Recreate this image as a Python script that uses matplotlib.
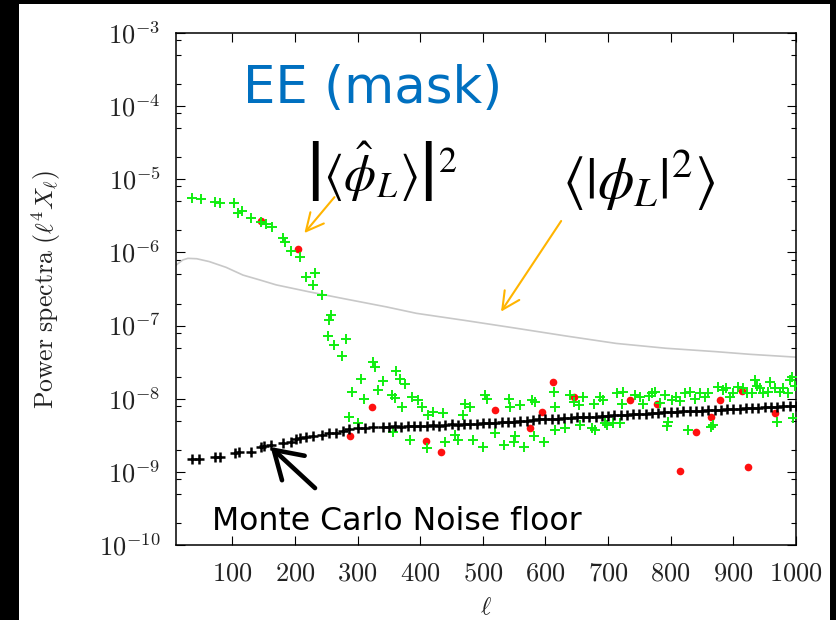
import numpy as np
import matplotlib
matplotlib.use("Agg")
import matplotlib.pyplot as plt
from matplotlib.patches import Rectangle
from matplotlib.ticker import FixedLocator, FuncFormatter, LogLocator, NullFormatter

plt.rcParams["mathtext.fontset"] = "cm"

# theory curve <|phi_L|^2>
theory_ell = [10, 21, 29, 43, 63, 90, 117, 144, 170, 222, 276, 346, 394,
              473, 553, 633, 713, 792, 872, 926, 1000]
theory_cl = [6.7e-7, 7.9e-7, 8.3e-7, 8.2e-7, 7.5e-7, 6.25e-7, 4.9e-7, 4.2e-7,
             3.6e-7, 2.9e-7, 2.35e-7, 1.8e-7, 1.47e-7, 1.17e-7, 9.2e-8,
             7.2e-8, 5.7e-8, 4.9e-8, 4.4e-8, 4.05e-8, 3.7e-8]

# |<phi_hat_L>|^2, positive bins
mean_ell = [36, 50, 73, 81, 102, 109, 115, 130, 146, 154, 163, 181, 184, 194,
            208, 217, 232, 229, 243, 258, 255, 253, 263, 282, 275, 324, 327,
            306, 340, 291, 332, 310, 287, 300,
            362, 368, 376, 355, 360, 387, 396, 403, 371, 357, 384, 411, 440,
            456, 461, 485, 501, 412, 421, 437, 469, 472, 480, 504, 506,
            520, 533, 541, 544, 552, 549, 565, 560, 578, 584, 582, 597, 613,
            615, 615, 631, 639, 645, 655, 653, 660,
            687, 692, 678, 674, 679, 695, 708, 719, 714, 722, 743, 756, 765,
            775, 791, 783, 796, 794, 809, 815, 823, 828, 839, 847, 855, 865,
            868, 876, 889, 894, 908, 921, 934, 937, 948, 958, 966, 969, 980,
            990, 993, 996, 698, 724, 751, 770, 802, 831, 860, 884, 900, 916,
            929, 942, 956, 974, 988, 998]
mean_cl = [5.6e-6, 5.4e-6, 4.9e-6, 4.7e-6, 4.8e-6, 3.5e-6, 3.7e-6, 3.0e-6,
           2.6e-6, 2.45e-6, 2.2e-6, 1.56e-6, 1.4e-6, 1.05e-6, 8.7e-7, 4.65e-7,
           5.2e-7, 3.6e-7, 2.6e-7, 1.4e-7, 1.19e-7, 7.3e-8, 5.4e-8, 6.5e-8,
           3.8e-8, 3.15e-8, 2.7e-8, 1.86e-8, 1.77e-8, 1.25e-8, 1.3e-8, 9.9e-9,
           5.7e-9, 4.6e-9,
           2.4e-8, 1.86e-8, 1.57e-8, 1.12e-8, 1.03e-8, 1.04e-8, 9.6e-9, 7.8e-9,
           7.8e-9, 3.47e-9, 2.73e-9, 2.15e-9, 2.54e-9, 3.2e-9, 2.73e-9,
           2.73e-9, 2.2e-9, 5.9e-9, 6.5e-9, 6.3e-9, 6.0e-9, 8.6e-9, 7.6e-9,
           1.12e-8, 1.0e-8,
           3.4e-9, 2.33e-9, 1.0e-8, 7.8e-9, 3.1e-9, 2.6e-9, 2.2e-9, 8.2e-9,
           9.6e-9, 9.0e-9, 3.1e-9, 2.55e-9, 1.25e-8, 7.8e-9, 3.7e-9, 3.95e-9,
           1.12e-8, 9.0e-9, 4.4e-9, 8.2e-9, 1.07e-8,
           1.07e-8, 9.6e-9, 8.6e-9, 3.95e-9, 3.7e-9, 4.6e-9, 4.6e-9, 4.6e-9,
           1.19e-8, 8.6e-9, 1.12e-8, 8.6e-9, 1.1e-8, 1.25e-8, 1.12e-8, 8.8e-9,
           4.85e-9, 4.2e-9, 1.07e-8, 9.2e-9, 1.19e-8, 3.7e-9, 1.0e-8, 1.19e-8,
           1.07e-8, 4.15e-9, 4.4e-9, 1.46e-8, 1.39e-8, 1.07e-8, 1.46e-8,
           1.2e-8, 1.8e-8, 1.5e-8, 1.2e-8, 1.7e-8, 1.4e-8, 4.85e-9, 1.4e-8,
           1.8e-8, 2.0e-8, 5.4e-9, 4.4e-9, 1.25e-8, 1.07e-8, 1.19e-8, 9.6e-9,
           1.25e-8, 1.19e-8, 1.3e-8, 1.19e-8, 1.38e-8, 1.19e-8, 1.38e-8,
           1.25e-8, 1.25e-8, 1.19e-8, 1.5e-8]

# |<phi_hat_L>|^2, negative bins (plotted as absolute value)
neg_ell = [145, 205, 288, 323, 409, 433, 520, 576, 595, 612, 646, 735, 778,
           815, 841, 865, 879, 913, 923, 966]
neg_cl = [2.7e-6, 1.11e-6, 3.1e-9, 7.6e-9, 2.64e-9, 1.89e-9, 7.0e-9, 3.95e-9,
          6.5e-9, 1.68e-8, 1.07e-8, 9.6e-9, 8.6e-9, 1.04e-9, 3.47e-9, 5.6e-9,
          9.6e-9, 1.29e-8, 1.18e-9, 6.45e-9]

# Monte Carlo noise floor
noise_ell = [36, 47, 73, 81, 105, 111, 130, 146, 151, 161, 181, 194, 202, 208,
             218, 229, 243, 255, 266, 276, 287, 300, 312, 324, 340,
             350, 360, 370, 380, 390, 400, 410, 420, 430, 440, 450, 460, 470,
             480, 490, 500, 510, 520, 530, 540, 550, 560, 570, 580, 590, 600,
             610, 620, 630, 640, 650, 660, 670, 680, 690, 700, 710, 720, 730,
             740, 750, 760, 770, 780, 790, 800, 810, 820, 830, 840, 850, 860,
             870, 880, 890, 900, 910, 920, 930, 940, 950, 960, 970, 980, 990,
             1000]
noise_cl = [1.51e-9, 1.52e-9, 1.60e-9, 1.61e-9, 1.83e-9, 1.84e-9, 1.89e-9,
            2.20e-9, 2.25e-9, 2.33e-9, 2.46e-9, 2.60e-9, 2.85e-9, 2.93e-9,
            2.96e-9, 3.10e-9, 3.20e-9, 3.37e-9, 3.45e-9, 3.60e-9, 3.87e-9,
            3.95e-9, 4.00e-9, 4.15e-9, 4.15e-9,
            4.10e-9, 4.20e-9, 4.15e-9, 4.25e-9, 4.20e-9, 4.30e-9, 4.25e-9,
            4.35e-9, 4.30e-9, 4.40e-9, 4.45e-9, 4.40e-9, 4.50e-9, 4.55e-9,
            4.50e-9, 4.65e-9, 4.60e-9, 4.70e-9, 4.75e-9, 4.85e-9, 4.80e-9,
            4.95e-9, 5.00e-9, 5.05e-9, 5.20e-9, 5.25e-9, 5.30e-9, 5.35e-9,
            5.45e-9, 5.40e-9, 5.55e-9, 5.60e-9, 5.60e-9, 5.70e-9, 5.75e-9,
            5.80e-9, 5.90e-9, 5.95e-9, 6.00e-9, 6.10e-9, 6.15e-9, 6.25e-9,
            6.30e-9, 6.35e-9, 6.50e-9, 6.55e-9, 6.60e-9, 6.70e-9, 6.75e-9,
            6.85e-9, 6.90e-9, 7.00e-9, 7.05e-9, 7.10e-9, 7.20e-9, 7.25e-9,
            7.30e-9, 7.40e-9, 7.45e-9, 7.55e-9, 7.60e-9, 7.70e-9, 7.75e-9,
            7.85e-9, 7.90e-9, 7.95e-9]

xticks = [100, 200, 300, 400, 500, 600, 700, 800, 900, 1000]


def main():
    fig = plt.figure(figsize=(8.36, 6.2), dpi=100, facecolor="black")
    fig.patches.append(Rectangle((19 / 836, 0), 811 / 836, 616 / 620,
                                 transform=fig.transFigure, facecolor="white",
                                 edgecolor="none", zorder=-10))
    ax = fig.add_axes([176 / 836, 75 / 620, 620 / 836, 512 / 620])
    ax.set_zorder(5)

    ax.plot(theory_ell, theory_cl, color="#c8c8c8", lw=1.2, zorder=2)
    ax.plot(neg_ell, neg_cl, "o", color="#ff1010", ms=5.5, mec="none", zorder=3)
    ax.plot(mean_ell, mean_cl, "+", color="#10ee10", ms=7, mew=1.4, zorder=4)
    ax.plot(noise_ell, noise_cl, "+", color="black", ms=7.5, mew=1.8, zorder=5)

    ax.set_yscale("log")
    ax.set_xlim(10, 1000)
    ax.set_ylim(1e-10, 1e-3)
    ax.xaxis.set_major_locator(FixedLocator(xticks))
    ax.xaxis.set_major_formatter(FuncFormatter(lambda v, p: r"$%d$" % v))
    ax.yaxis.set_major_locator(LogLocator(base=10, numticks=20))
    ax.yaxis.set_minor_locator(LogLocator(base=10, subs=(2, 5, 8), numticks=20))
    ax.yaxis.set_major_formatter(
        FuncFormatter(lambda v, p: r"$10^{%d}$" % int(round(np.log10(v)))))
    ax.yaxis.set_minor_formatter(NullFormatter())

    ax.tick_params(which="both", direction="in", top=True, right=True,
                   width=0.8, colors="black", labelcolor="#222222")
    ax.tick_params(which="major", length=6.5, labelsize=19, pad=11)
    ax.tick_params(which="minor", length=3.4)
    for sp in ax.spines.values():
        sp.set_linewidth(1.1)

    ax.set_ylabel(r"$\mathrm{Power\ spectra\ }(\ell^4X_\ell)$", fontsize=18.5,
                  color="#222222")
    ax.yaxis.set_label_coords(-0.182, 0.5)
    ax.set_xlabel(r"$\ell$", fontsize=18, color="#222222", va="top")
    ax.xaxis.set_label_coords(0.5, -0.098)

    # overlaid labels
    ax.text(0.108, 0.863, "EE (mask)", transform=ax.transAxes, fontsize=37,
            color="#0070c0", family="DejaVu Sans", ha="left", va="baseline")
    ax.text(0.331, 0.7285, r"$\left|\langle\hat{\phi}_L\rangle\right|^2$",
            transform=ax.transAxes, fontsize=37, math_fontfamily="stix",
            ha="center", va="center")
    ax.text(0.747, 0.711, r"$\langle|\phi_L|^2\rangle$",
            transform=ax.transAxes, fontsize=42, math_fontfamily="stix",
            ha="center", va="center")
    ax.text(0.058, 0.029, "Monte Carlo Noise floor", transform=ax.transAxes,
            fontsize=22.7, family="DejaVu Sans", ha="left", va="baseline")

    orange = "#ffb400"
    ax.annotate("", xy=(215, 1.84e-6), xytext=(263, 5.7e-6),
                arrowprops=dict(arrowstyle="->,head_length=0.9,head_width=0.45",
                                color=orange, lw=1.5, shrinkA=0, shrinkB=0,
                                mutation_scale=14))
    ax.annotate("", xy=(529, 1.55e-7), xytext=(625, 2.69e-6),
                arrowprops=dict(arrowstyle="->,head_length=0.9,head_width=0.45",
                                color=orange, lw=1.5, shrinkA=0, shrinkB=0,
                                mutation_scale=14))
    ax.annotate("", xy=(161, 2.19e-9), xytext=(232, 6.0e-10),
                arrowprops=dict(arrowstyle="->,head_length=0.8,head_width=0.5",
                                color="black", lw=3.3, shrinkA=0, shrinkB=0,
                                mutation_scale=24))

    fig.savefig("out.png", dpi=100, facecolor=fig.get_facecolor())
    plt.close(fig)


if __name__ == "__main__":
    main()
